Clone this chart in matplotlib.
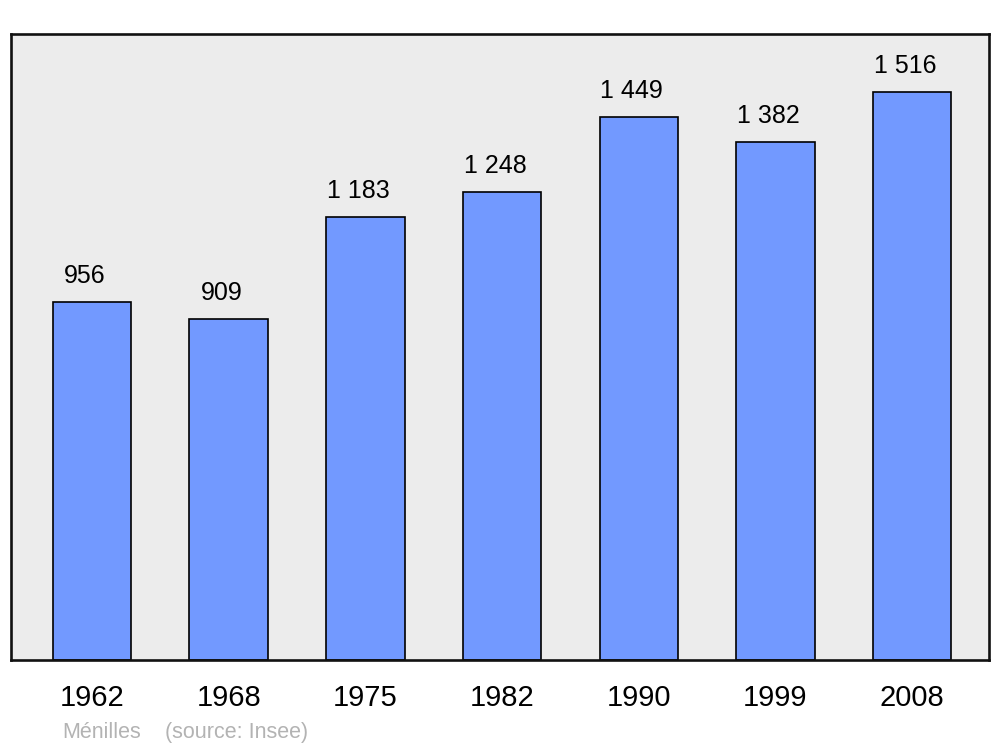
import numpy as np
import matplotlib.pyplot as plt

years = ["1962", "1968", "1975", "1982", "1990", "1999", "2008"]
population = [956, 909, 1183, 1248, 1449, 1382, 1516]
value_labels = ["956", "909", "1 183", "1 248", "1 449", "1 382", "1 516"]

plt.rcParams['font.family'] = ['Liberation Sans', 'DejaVu Sans']

fig = plt.figure(figsize=(10, 7.47), dpi=100)
ax = fig.add_axes([0.011, 0.1165, 0.978, 0.838])
ax.set_facecolor('#ececec')

x = np.arange(len(years))
bars = ax.bar(x, population, width=0.575, color='#7299ff',
              edgecolor='black', linewidth=1.2, zorder=2)

# value labels above each bar
for xi, val, lab in zip(x, population, value_labels):
    ax.annotate(lab, (xi, val), xytext=(-5, 13.5), textcoords='offset points',
                ha='center', va='baseline', fontsize=18, color='black')

ax.set_xlim(-0.593, 6.562)
ax.set_ylim(0, 1670)
ax.set_xticks(x)
ax.set_xticklabels(years, fontsize=21)
ax.tick_params(axis='x', length=0, pad=17.5)
ax.set_yticks([])
for s in ax.spines.values():
    s.set_linewidth(1.9)
    s.set_color('#111111')

fig.text(0.062, 0.012, "Ménilles", fontsize=15.5, color='#b3b3b3', ha='left', va='baseline')
fig.text(0.165, 0.012, "(source: Insee)", fontsize=15.5, color='#b3b3b3', ha='left', va='baseline')

fig.savefig('out.png', dpi=100)
